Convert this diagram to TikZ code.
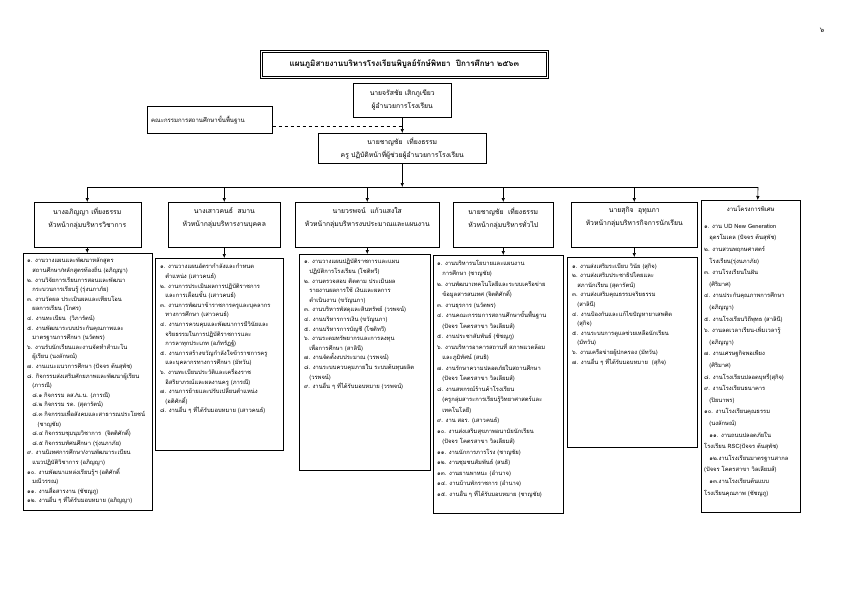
\documentclass[tikz,border=0pt]{standalone}
\usepackage{fontspec}
\newfontfamily\thai[Script=Thai]{Loma}
\usetikzlibrary{arrows.meta}
\newcommand\myind{\hspace*{0.9em}}
\newcommand\myindb{\hspace*{1.8em}}
\begin{document}
\begin{tikzpicture}[x=1pt,y=-1pt,
  box/.style={draw=black, line width=0.5pt, inner sep=0pt, anchor=north west},
  hdr/.style={align=center, inner sep=0pt, anchor=north, font=\thai\fontsize{6.8}{13}\selectfont},
  lst/.style={align=left, inner sep=0pt, anchor=north west, font=\thai\fontsize{5.8}{9.6}\selectfont},
  arr/.style={-{Latex[length=4pt,width=3.5pt]}, line width=0.6pt},
  conn/.style={line width=0.6pt}]
\useasboundingbox (0,0) rectangle (842,595);
\fill[white] (0,0) rectangle (842,595);

% page number
\node[font=\thai\fontsize{7}{8}\selectfont, anchor=center] (pg) at (822,30) {๖};

% title
\node[box, double, double distance=1.3pt, line width=0.6pt, minimum width=286pt, minimum height=26pt] (title) at (261,51) {};
\node[font=\thai\bfseries\fontsize{8}{10}\selectfont, inner sep=0pt] (titlet) at (title.center) {แผนภูมิสายงานบริหารโรงเรียนพิบูลย์รักษ์พิทยา\ \ ปีการศึกษา ๒๕๖๓};

% director
\node[box, minimum width=98pt, minimum height=34pt] (dir) at (353,83) {};
\node[hdr, anchor=center] (dirt) at (dir.center) {นายจรัสชัย เสิกภูเขียว\\ผู้อำนวยการโรงเรียน};

% committee
\node[box, minimum width=125pt, minimum height=27pt] (comm) at (147,106) {};
\node[font=\thai\fontsize{6}{8}\selectfont, inner sep=0pt, anchor=west] (commt) at ([xshift=4pt]comm.west) {คณะกรรมการสถานศึกษาขั้นพื้นฐาน};

% assistant
\node[box, minimum width=168pt, minimum height=30pt] (asst) at (318,133) {};
\node[hdr, anchor=center] (asstt) at (asst.center) {นายชาญชัย\ \ เที่ยงธรรม\\ครู ปฏิบัติหน้าที่ผู้ช่วยผู้อำนวยการโรงเรียน};

\draw[arr] (dir.south) -- (dir.south |- asst.north);
\coordinate (cd) at ([yshift=-6pt]comm.east);
\draw[conn, dashed, line width=0.4pt] (cd) -- (dir.south |- cd);

% bus
\coordinate (busl) at (87,187);
\coordinate (busr) at (758,187);
\draw[arr] (asst.south) -- (asst.south |- busl);
\draw[conn] (busl) -- (busr);

% headers
\node[box, minimum width=107pt, minimum height=45pt] (h1) at (33.5,202) {};
\node[box, minimum width=112pt, minimum height=45pt] (h2) at (168,202) {};
\node[box, minimum width=144pt, minimum height=45pt] (h3) at (295,202) {};
\node[box, minimum width=100pt, minimum height=45pt] (h4) at (453,202) {};
\node[box, minimum width=126pt, minimum height=45pt] (h5) at (571,202) {};
\node[box, minimum width=99pt, minimum height=312pt] (h6) at (701,200) {};

\node[hdr] (h1t) at ([yshift=-5pt]h1.north) {นางอภิญญา เที่ยงธรรม\\หัวหน้ากลุ่มบริหารวิชาการ};
\node[hdr] (h2t) at ([yshift=-5pt]h2.north) {นางเสาวคนธ์\ \ สมาน\\หัวหน้ากลุ่มบริหารงานบุคคล};
\node[hdr] (h3t) at ([yshift=-5pt]h3.north) {นายวรพจน์\ \ แก้วแสงใส\\หัวหน้ากลุ่มบริหารงบประมาณและแผนงาน};
\node[hdr] (h4t) at ([yshift=-5pt]h4.north) {นายชาญชัย\ \ เที่ยงธรรม\\หัวหน้ากลุ่มบริหารทั่วไป};
\node[hdr] (h5t) at ([yshift=-5pt]h5.north) {นายสุกิจ\ \ อุทุมภา\\หัวหน้ากลุ่มบริหารกิจการนักเรียน};
\node[font=\thai\fontsize{6}{8}\selectfont, inner sep=0pt, anchor=north] (h6t) at ([yshift=-6pt]h6.north) {งานโครงการพิเศษ};

\draw[arr] (h1.north |- busl) -- (h1.north);
\draw[arr] (h2.north |- busl) -- (h2.north);
\draw[arr] (h3.north |- busl) -- (h3.north);
\draw[arr] (h4.north |- busl) -- (h4.north);
\draw[arr] (h5.north |- busl) -- (h5.north);
\draw[arr] (busr) -- ([xshift=7pt]h6.north);

% list boxes
\node[box, minimum width=129pt, minimum height=257pt] (l1) at (23,253) {};
\node[box, minimum width=128pt, minimum height=192pt] (l2) at (155,258) {};
\node[box, minimum width=131pt, minimum height=216pt] (l3) at (299,254) {};
\node[box, minimum width=130pt, minimum height=258pt] (l4) at (433,255) {};
\node[box, minimum width=130pt, minimum height=190pt] (l5) at (567,257) {};

\draw[arr] (h1.south) -- (h1.south |- l1.north);
\draw[arr] (h2.south) -- (h2.south |- l2.north);
\draw[arr] (h3.south) -- (h3.south |- l3.north);
\draw[arr] (h4.south) -- (h4.south |- l4.north);
\draw[arr] (h5.south) -- (h5.south |- l5.north);

\node[lst] (t1) at ([shift={(4pt,-5pt)}]l1.north west) {%
๑. งานวางแผนและพัฒนาหลักสูตร\\
\myind สถานศึกษา/หลักสูตรท้องถิ่น (อภิญญา)\\
๒. งานวิจัยการเรียนการสอนและพัฒนา\\
\myind กระบวนการเรียนรู้ (รุ่งนภาภัย)\\
๓. งานวัดผล ประเมินผลและเทียบโอน\\
\myind ผลการเรียน (โกศร)\\
๔. งานทะเบียน\ \ (วิภารัตน์)\\
๕. งานพัฒนาระบบประกันคุณภาพและ\\
\myind มาตรฐานการศึกษา (นวัตพร)\\
๖. งานรับนักเรียนและงานจัดทำสำมะโน\\
\myind ผู้เรียน (นงลักษณ์)\\
๗. งานแนะแนวการศึกษา (ปัจจร ต้นสุพัช)\\
๘. กิจกรรมส่งเสริมศักยภาพและพัฒนาผู้เรียน\\
\myind (ภารณี)\\
\myind ๘.๑ กิจกรรม ลส./น.น. (ภารณี)\\
\myind ๘.๒ กิจกรรม รด. (สุดารัตน์)\\
\myind ๘.๓ กิจกรรมเพื่อสังคมและสาธารณประโยชน์\\
\myindb (ชาญชัย)\\
\myind ๘.๔ กิจกรรมชุมนุมวิชาการ\ \ (จิตติศักดิ์)\\
\myind ๘.๕ กิจกรรมทัศนศึกษา (รุ่งนภาภัย)\\
๙. งานนิเทศการศึกษา/งานพัฒนาระเบียน\\
\myind แนวปฏิบัติวิชาการ (อภิญญา)\\
๑๐. งานพัฒนาแหล่งเรียนรู้ฯ (อติศักดิ์\\
\myind มณีวรรณ)\\
๑๑. งานสื่อสารงาน (ชัชญภู)\\
๑๒. งานอื่น ๆ ที่ได้รับมอบหมาย (อภิญญา)};

\node[lst] (t2) at ([shift={(5pt,-6pt)}]l2.north west) {%
๑. งานวางแผนอัตรากำลังและกำหนด\\
\myind ตำแหน่ง (เสาวคนธ์)\\
๒. งานการประเมินผลการปฏิบัติราชการ\\
\myind และการเลื่อนขั้น (เสาวคนธ์)\\
๓. งานการพัฒนาข้าราชการครูและบุคลากร\\
\myind ทางการศึกษา (เสาวคนธ์)\\
๔. งานการควบคุมและพัฒนาการมีวินัยและ\\
\myind จริยธรรมในการปฏิบัติราชการและ\\
\myind การลาทุกประเภท (อภัทรัฏฐ์)\\
๕. งานการสร้างขวัญกำลังใจข้าราชการครู\\
\myind และบุคลากรทางการศึกษา (มัทวัน)\\
๖. งานทะเบียนประวัติและเครื่องราช\\
\myind อิสริยาภรณ์และผลงานครู (ภารณี)\\
๗. งานการย้ายและปรับเปลี่ยนตำแหน่ง\\
\myind (อติศักดิ์)\\
๘. งานอื่น ๆ ที่ได้รับมอบหมาย (เสาวคนธ์)};

\node[lst] (t3) at ([shift={(5pt,-5pt)}]l3.north west) {%
๑. งานวางแผนปฏิบัติราชการและแผน\\
\myind ปฏิบัติการโรงเรียน (โชติทวี)\\
๒. งานตรวจสอบ ติดตาม ประเมินผล\\
\myind รายงานผลการใช้ เงินและผลการ\\
\myind ดำเนินงาน (ขวัญนภา)\\
๓. งานบริหารพัสดุและสินทรัพย์ (วรพจน์)\\
๔. งานบริหารการเงิน (ขวัญนภา)\\
๕. งานบริหารการบัญชี (โชติทวี)\\
๖. งานระดมทรัพยากรและการลงทุน\\
\myind เพื่อการศึกษา (สาลินี)\\
๗. งานจัดตั้งงบประมาณ (วรพจน์)\\
๘. งานระบบควบคุมภายใน ระบบต้นทุนผลิต\\
\myind (วรพจน์)\\
๙. งานอื่น ๆ ที่ได้รับมอบหมาย (วรพจน์)};

\node[lst, font=\thai\fontsize{5.8}{10.5}\selectfont] (t4) at ([shift={(4pt,-5pt)}]l4.north west) {%
๑. งานบริหารนโยบายและแผนงาน\\
\myind การศึกษา (ชาญชัย)\\
๒. งานพัฒนาเทคโนโลยีและระบบเครือข่าย\\
\myind ข้อมูลสารสนเทศ (จิตติศักดิ์)\\
๓. งานธุรการ (นวัตพร)\\
๔. งานคณะกรรมการสถานศึกษาขั้นพื้นฐาน\\
\myind (ปัจจร โคตรสาขา วิลเลียมส์)\\
๕. งานประชาสัมพันธ์ (ชัชญภู)\\
๖. งานบริหารอาคารสถานที่ สภาพแวดล้อม\\
\myind และภูมิทัศน์ (สนธิ)\\
๗. งานรักษาความปลอดภัยในสถานศึกษา\\
\myind (ปัจจร โคตรสาขา วิลเลียมส์)\\
๘. งานสหกรณ์ร้านค้าโรงเรียน\\
\myind (ครูกลุ่มสาระการเรียนรู้วิทยาศาสตร์และ\\
\myind เทคโนโลยี)\\
๙. งาน สอร. (เสาวคนธ์)\\
๑๐. งานส่งเสริมสุขภาพอนามัยนักเรียน\\
\myind (ปัจจร โคตรสาขา วิลเลียมส์)\\
๑๑. งานนักการภารโรง (ชาญชัย)\\
๑๒. งานชุมชนสัมพันธ์ (สนธิ)\\
๑๓. งานยานพาหนะ (อำนาจ)\\
๑๔. งานบ้านพักราชการ (อำนาจ)\\
๑๕. งานอื่น ๆ ที่ได้รับมอบหมาย (ชาญชัย)};

\node[lst] (t5) at ([shift={(5pt,-6pt)}]l5.north west) {%
๑. งานส่งเสริมระเบียบ วินัย (สุกิจ)\\
๒. งานส่งเสริมประชาธิปไตยและ\\
\myind สภานักเรียน (สุดารัตน์)\\
๓. งานส่งเสริมคุณธรรมจริยธรรม\\
\myind (สาลินี)\\
๔. งานป้องกันและแก้ไขปัญหายาเสพติด\\
\myind (สุกิจ)\\
๕. งานระบบการดูแลช่วยเหลือนักเรียน\\
\myind (มัทวัน)\\
๖. งานเครือข่ายผู้ปกครอง (มัทวัน)\\
๗. งานอื่น ๆ ที่ได้รับมอบหมาย\ \ (สุกิจ)};

\node[lst, font=\thai\fontsize{5.8}{11.6}\selectfont] (t6) at ([shift={(3pt,-24pt)}]h6.north west) {%
๑. งาน UD New Generation\\
\myind อุดรโมเดล (ปัจจร ต้นสุพัช)\\
๒. งานสวนพฤกษศาสตร์\\
\myind โรงเรียน(รุ่งนภาภัย)\\
๓. งานโรงเรียนในฝัน\\
\myind (ศิริมาศ)\\
๔. งานประกันคุณภาพการศึกษา\\
\myind (อภิญญา)\\
๕. งานโรงเรียนวิถีพุทธ (สาลินี)\\
๖. งานลดเวลาเรียน-เพิ่มเวลารู้\\
\myind (อภิญญา)\\
๗. งานเศรษฐกิจพอเพียง\\
\myind (ศิริมาศ)\\
๘. งานโรงเรียนปลอดบุหรี่(สุกิจ)\\
๙. งานโรงเรียนธนาคาร\\
\myind (ปิยนาพร)\\
๑๐. งานโรงเรียนคุณธรรม\\
\myind (นงลักษณ์)\\
\myind ๑๑. งานถนนปลอดภัยใน\\
โรงเรียน RSC(ปัจจร ต้นสุพัช)\\
\myind ๑๒.งานโรงเรียนมาตรฐานสากล\\
(ปัจจร โคตรสาขา วิลเลียมส์)\\
\myind ๑๓.งานโรงเรียนต้นแบบ\\
โรงเรียนคุณภาพ (ชัชญภู)};

\end{tikzpicture}
\end{document}
